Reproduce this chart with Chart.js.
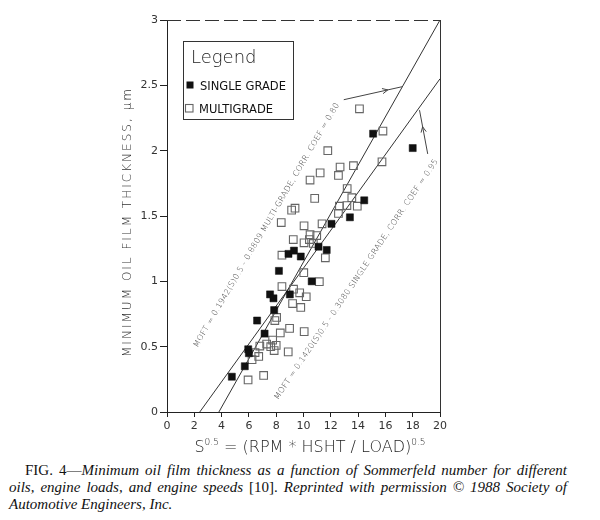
<!DOCTYPE html>
<html><head><meta charset="utf-8">
<script src="https://cdn.jsdelivr.net/npm/chart.js@4.4.1/dist/chart.umd.min.js"></script>
<style>
html,body{margin:0;padding:0;background:#fff;}
#wrap{position:relative;width:600px;height:520px;overflow:hidden;}
canvas{position:absolute;left:0;top:0;}
.cap{position:absolute;left:9px;width:558px;font-family:"Liberation Serif","DejaVu Serif",serif;font-size:15px;line-height:18px;color:#111;white-space:nowrap;}
.j{text-align:justify;text-align-last:justify;}
</style></head><body>
<div id="wrap"><canvas id="c" width="600" height="460"></canvas>
<div class="cap j" style="top:461px;left:25px;width:542px;">FIG. 4—<i>Minimum oil film thickness as a function of Sommerfeld number for different</i></div>
<div class="cap j" style="top:478px;"><i>oils, engine loads, and engine speeds</i> [10]. <i>Reprinted with permission © 1988 Society of</i></div>
<div class="cap" style="top:494.5px;"><i>Automotive Engineers, Inc.</i></div>
</div>
<script>
const xTickLabels = ['0','2','4','6','8','10','12','14','16','18','20'];
const yTickLabels = ['0','0.5','1','1.5','2','2.5','3'];
const seriesNames = ['SINGLE GRADE','MULTIGRADE'];

const singleX = [4.75, 5.7, 5.95, 6.0, 7.15, 6.6, 7.85, 7.55, 7.8, 9.0, 8.2, 10.6, 8.9, 9.3, 9.8, 11.1, 11.7, 12.05, 13.4, 14.45, 15.1, 18.0];
const singleY = [0.27, 0.35, 0.48, 0.45, 0.60, 0.70, 0.78, 0.90, 0.87, 0.90, 1.08, 1.00, 1.21, 1.235, 1.19, 1.265, 1.24, 1.44, 1.49, 1.62, 2.13, 2.02];

const multiX = [14.1, 15.82, 15.75, 11.78, 12.68, 13.66, 11.22, 12.56, 10.48, 13.2, 10.82, 13.54, 12.63, 13.18, 13.94, 12.56, 9.13, 9.38, 8.37, 10.04, 11.36, 9.25, 10.48, 10.04, 10.72, 10.43, 10.97, 8.42, 11.6, 10.02, 11.16, 8.42, 9.27, 9.72, 10.2, 9.2, 9.8, 8.03, 7.9, 8.3, 8.98, 10.05, 7.74, 6.8, 7.3, 7.6, 8.0, 7.85, 8.88, 6.45, 6.72, 6.23, 7.08, 5.94];
const multiY = [2.32, 2.15, 1.915, 2.0, 1.875, 1.885, 1.83, 1.81, 1.775, 1.71, 1.635, 1.64, 1.575, 1.58, 1.575, 1.52, 1.545, 1.56, 1.45, 1.425, 1.44, 1.32, 1.357, 1.295, 1.29, 1.32, 1.35, 1.20, 1.18, 1.066, 0.997, 0.96, 0.94, 0.912, 0.882, 0.83, 0.80, 0.724, 0.70, 0.605, 0.64, 0.615, 0.55, 0.505, 0.52, 0.50, 0.51, 0.47, 0.46, 0.455, 0.425, 0.40, 0.28, 0.245];

const multiFitX = [3.8, 20];
const multiFitY = [0, 3.0];
const singleFitX = [2.4, 20];
const singleFitY = [0, 2.55];

const multiNote = 'MOFT = 0.1942(S)0.5 - 0.8809 MULTI-GRADE, CORR. COEF = 0.80';
const singleNote = 'MOFT = 0.1420(S)0.5 - 0.3080 SINGLE GRADE, CORR. COEF = 0.95';
const yTitle = 'MINIMUM OIL FILM THICKNESS, \u03BCm';

const pts = (xs, ys) => xs.map((x, i) => ({x: x, y: ys[i]}));
const THIN = '"DejaVu Sans", sans-serif';

function drawNote(ctx, text, p0, p1) {
  const dx = p1.x - p0.x, dy = p1.y - p0.y;
  const L = Math.hypot(dx, dy), ang = Math.atan2(dy, dx);
  ctx.save();
  let fs = 8;
  ctx.font = '200 ' + fs + 'px ' + THIN;
  let w = ctx.measureText(text).width;
  if (w > L) { fs = fs * L / w; ctx.font = '200 ' + fs + 'px ' + THIN; w = ctx.measureText(text).width; }
  ctx.letterSpacing = Math.max(0, (L - w) / text.length) + 'px';
  ctx.translate(p0.x, p0.y); ctx.rotate(ang);
  ctx.fillStyle = '#444'; ctx.textBaseline = 'middle'; ctx.textAlign = 'left';
  ctx.fillText(text, 0, 0);
  ctx.restore();
}
function drawArrow(ctx, p0, p1, f) {
  ctx.save();
  ctx.strokeStyle = '#444'; ctx.lineWidth = 1;
  ctx.beginPath(); ctx.moveTo(p0.x, p0.y); ctx.lineTo(p1.x, p1.y); ctx.stroke();
  const hx = p0.x + (p1.x - p0.x) * f, hy = p0.y + (p1.y - p0.y) * f;
  const a = Math.atan2(p1.y - p0.y, p1.x - p0.x), h = 6, s = 0.45;
  ctx.beginPath();
  ctx.moveTo(hx - h * Math.cos(a - s), hy - h * Math.sin(a - s));
  ctx.lineTo(hx, hy);
  ctx.lineTo(hx - h * Math.cos(a + s), hy - h * Math.sin(a + s));
  ctx.stroke();
  ctx.restore();
}

const decor = {
  id: 'decor',
  afterDraw(chart) {
    const ctx = chart.ctx, ca = chart.chartArea;
    const xs = chart.scales.x, ys = chart.scales.y;
    const P = (x, y) => ({x: xs.getPixelForValue(x), y: ys.getPixelForValue(y)});
    ctx.save();
    // frame: dashed top, solid right
    ctx.strokeStyle = '#333'; ctx.lineWidth = 1;
    ctx.setLineDash([14, 5]);
    ctx.beginPath(); ctx.moveTo(ca.left, ca.top + 0.5); ctx.lineTo(ca.right, ca.top + 0.5); ctx.stroke();
    ctx.setLineDash([]);
    ctx.beginPath(); ctx.moveTo(ca.right + 0.5, ca.top); ctx.lineTo(ca.right + 0.5, ca.bottom); ctx.stroke();

    // y title
    ctx.save();
    ctx.translate(128, 222); ctx.rotate(-Math.PI / 2);
    ctx.font = '200 12px ' + THIN;
    const yw = ctx.measureText(yTitle).width;
    ctx.letterSpacing = Math.max(0, (270 - yw) / yTitle.length) + 'px';
    ctx.fillStyle = '#333'; ctx.textAlign = 'center'; ctx.textBaseline = 'middle';
    ctx.fillText(yTitle, 0, 0);
    ctx.restore();

    // x title with superscripts
    const parts = [['S', 16, 0], ['0.5', 9, -7], [' = (RPM * HSHT / LOAD)', 16, 0], ['0.5', 9, -7]];
    let tw = 0;
    parts.forEach(p => { ctx.font = '200 ' + p[1] + 'px ' + THIN; p.push(ctx.measureText(p[0]).width); tw += p[3]; });
    let cx = 310 - tw / 2;
    ctx.fillStyle = '#222'; ctx.textBaseline = 'alphabetic'; ctx.textAlign = 'left';
    parts.forEach(p => { ctx.font = '200 ' + p[1] + 'px ' + THIN; ctx.fillText(p[0], cx, 452 + p[2]); cx += p[3]; });

    // legend
    ctx.strokeStyle = '#333'; ctx.lineWidth = 1;
    ctx.strokeRect(183.5, 41.5, 110, 78);
    ctx.fillStyle = '#222';
    ctx.font = '200 18px ' + THIN;
    ctx.fillText('Legend', 191, 63);
    ctx.font = '11.5px ' + THIN;
    const d0 = chart.data.datasets[0], d1 = chart.data.datasets[1];
    ctx.fillStyle = d0.pointBackgroundColor;
    ctx.fillRect(186.5, 81.5, 7, 7);
    ctx.fillStyle = '#111';
    ctx.fillText(d0.label, 200, 90);
    ctx.strokeStyle = d1.pointBorderColor; ctx.lineWidth = 1.1;
    ctx.strokeRect(185.5, 104.5, 7.5, 7.5);
    ctx.fillStyle = '#111';
    ctx.fillText(d1.label, 199, 113);

    // annotations
    drawNote(ctx, multiNote, P(2.1, 0.5), P(12.5, 2.36));
    drawArrow(ctx, P(12.95, 2.39), P(17.25, 2.49), 0.75);
    drawNote(ctx, singleNote, P(8.0, 0.10), P(19.75, 1.93));
    drawArrow(ctx, P(19.1, 1.975), P(18.5, 2.31), 0.62);
    ctx.restore();
  }
};

new Chart(document.getElementById('c'), {
  type: 'scatter',
  data: {
    datasets: [
      {label: seriesNames[0], data: pts(singleX, singleY), pointStyle: 'rect', pointRadius: 5,
       pointBackgroundColor: '#111', pointBorderColor: '#111', pointBorderWidth: 0.5, order: 1},
      {label: seriesNames[1], data: pts(multiX, multiY), pointStyle: 'rect', pointRadius: 5.4,
       pointBackgroundColor: 'rgba(255,255,255,0)', pointBorderColor: '#666', pointBorderWidth: 1.1, order: 2},
      {label: 'multi fit', data: pts(multiFitX, multiFitY), showLine: true, pointRadius: 0,
       borderColor: '#333', borderWidth: 1, order: 3},
      {label: 'single fit', data: pts(singleFitX, singleFitY), showLine: true, pointRadius: 0,
       borderColor: '#333', borderWidth: 1, order: 4}
    ]
  },
  options: {
    responsive: false, animation: false,
    layout: {padding: {left: 0, right: 160, top: 20, bottom: 0}},
    plugins: {legend: {display: false}, tooltip: {enabled: false}},
    scales: {
      x: {
        type: 'linear', min: 0, max: 20,
        afterFit: s => { s.height = 48; },
        ticks: {stepSize: 2, color: '#333', font: {family: 'DejaVu Sans', size: 11}, padding: 3,
                callback: (v, i) => xTickLabels[i]},
        grid: {drawOnChartArea: false, drawTicks: true, tickLength: 5, color: '#222'},
        border: {display: true, color: '#222', width: 1}
      },
      y: {
        type: 'linear', min: 0, max: 3,
        afterFit: s => { s.width = 167; },
        ticks: {stepSize: 0.5, color: '#333', font: {family: 'DejaVu Sans', size: 11}, padding: 2,
                callback: (v, i) => yTickLabels[i]},
        grid: {drawOnChartArea: false, drawTicks: true, tickLength: 7, color: '#222'},
        border: {display: true, color: '#222', width: 1}
      }
    }
  },
  plugins: [decor]
});
</script>
</body></html>
